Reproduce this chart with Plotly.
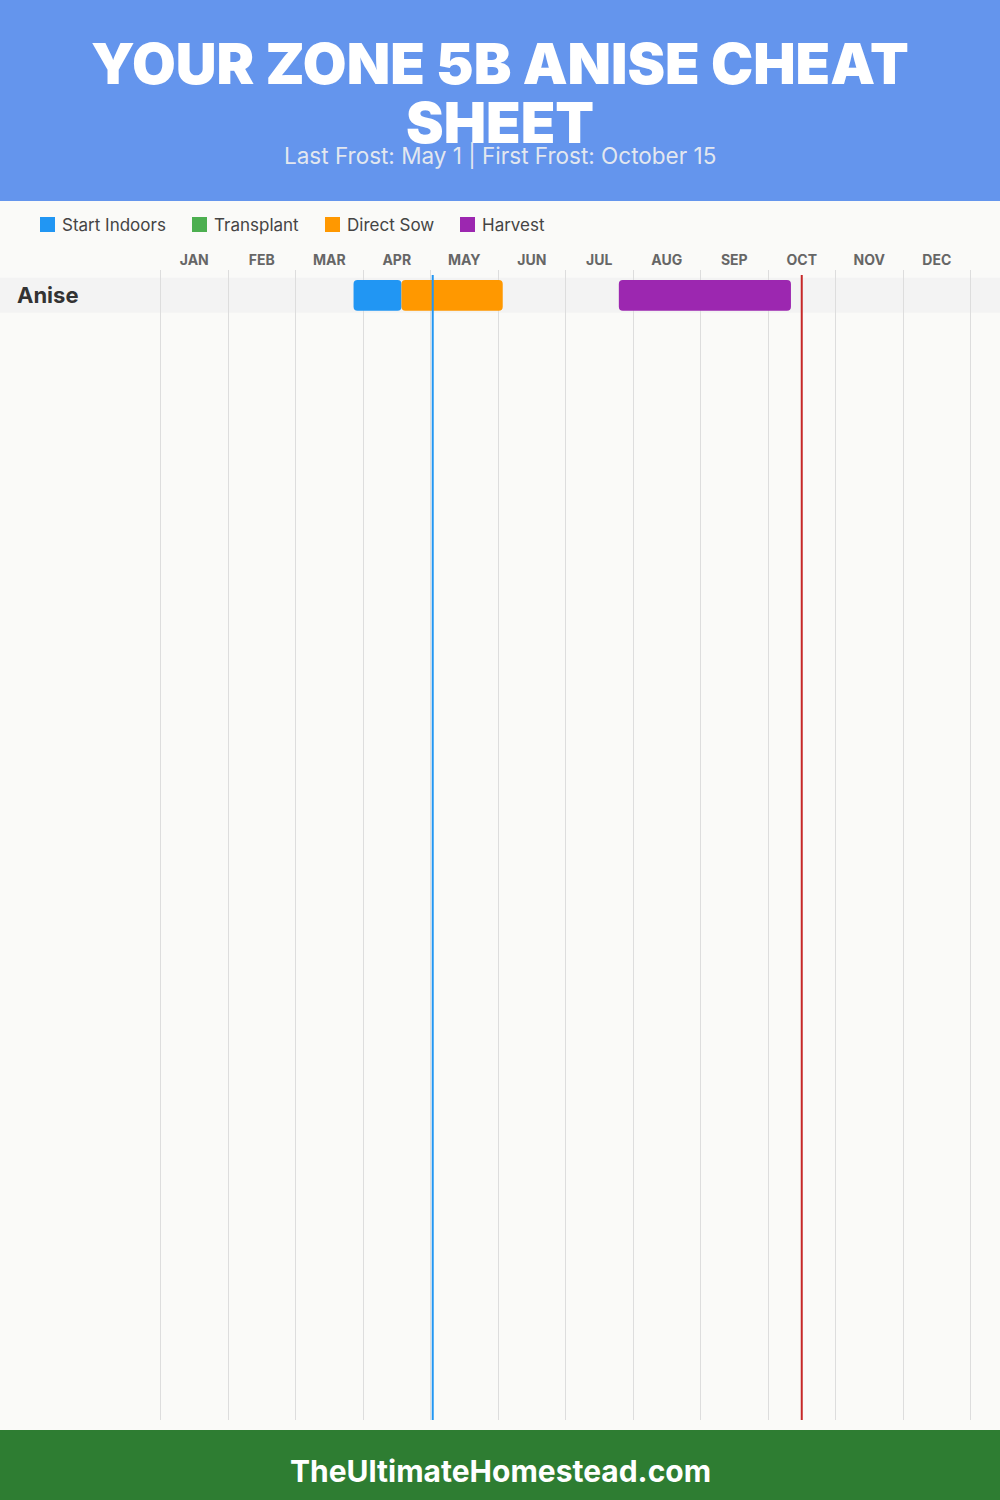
import plotly.graph_objects as go

# ---------------- data ----------------
crops = ["Anise"]
months = ["JAN", "FEB", "MAR", "APR", "MAY", "JUN", "JUL", "AUG", "SEP", "OCT", "NOV", "DEC"]
phases = ["Start Indoors", "Transplant", "Direct Sow", "Harvest"]
phase_colors = ["#2196F3", "#4CAF50", "#FF9800", "#9C27B0"]

# values in month units (0 = Jan 1, 12 = Dec 31)
start_indoors_start = [2.86]
start_indoors_end = [3.57]
transplant_start = []
transplant_end = []
direct_sow_start = [3.57]
direct_sow_end = [5.07]
harvest_start = [6.79]
harvest_end = [9.34]

last_frost = 4.033   # May 1
first_frost = 9.5    # October 15

title_lines = ["YOUR ZONE 5B ANISE CHEAT", "SHEET"]
subtitle = "Last Frost: May 1 | First Frost: October 15"
footer = "TheUltimateHomestead.com"

# ---------------- layout helpers ----------------
W, H = 1000, 1500
FONT = "Inter, 'Noto Sans', 'Open Sans', sans-serif"


def py(pix):
    """pixel row (from top) -> paper y"""
    return 1 - pix / H


def px(pix):
    return pix / W


x0_pix, month_w = 160.5, 67.5
x_range = [-x0_pix / month_w, (W - x0_pix) / month_w]

dom_top, dom_bot = 270, 1420
row_center, row_h = 295.3, 35.0
dom_h = dom_bot - dom_top
y_range = [(dom_h - (row_center - dom_top)) / row_h, -(row_center - dom_top) / row_h]

fig = go.Figure()

series = [
    (start_indoors_start, start_indoors_end),
    (transplant_start, transplant_end),
    (direct_sow_start, direct_sow_end),
    (harvest_start, harvest_end),
]
for name, color, (s, e) in zip(phases, phase_colors, series):
    if not s:
        continue
    fig.add_trace(go.Bar(
        y=crops[:len(s)],
        x=[b - a for a, b in zip(s, e)],
        base=s,
        orientation="h",
        marker=dict(color=color, line=dict(width=0)),
        width=30.7 / row_h,
        name=name,
        showlegend=False,
        hoverinfo="skip",
    ))

shapes = []
annotations = []

# header / footer bands
shapes.append(dict(type="rect", xref="paper", yref="paper", x0=0, x1=1, y0=py(201), y1=1,
                   fillcolor="#6495ED", line=dict(width=0), layer="below"))
shapes.append(dict(type="rect", xref="paper", yref="paper", x0=0, x1=1, y0=0, y1=py(1430),
                   fillcolor="#2E7D32", line=dict(width=0), layer="below"))

# row band
for i, c in enumerate(crops):
    shapes.append(dict(type="rect", xref="paper", yref="y", x0=0, x1=1, y0=i - 0.5, y1=i + 0.5,
                       fillcolor="#F3F3F3", line=dict(width=0), layer="below"))
    annotations.append(dict(text=f"<b>{c}</b>", xref="paper", yref="y", x=px(15), y=i,
                            xanchor="left", yanchor="middle", showarrow=False,
                            font=dict(family=FONT, size=22, color="#333333")))

# frost lines
for val, col in [(last_frost, "#2196F3"), (first_frost, "#C62828")]:
    shapes.append(dict(type="line", xref="x", yref="paper", x0=val, x1=val,
                       y0=py(dom_bot), y1=py(275), line=dict(color=col, width=2), layer="above"))

# legend (manual)
legend_x = [40, 192, 325, 460]
for lx, name, color in zip(legend_x, phases, phase_colors):
    shapes.append(dict(type="rect", xref="paper", yref="paper", x0=px(lx), x1=px(lx + 15),
                       y0=py(232), y1=py(217), fillcolor=color, line=dict(width=0)))
    annotations.append(dict(text=name, xref="paper", yref="paper", x=px(lx + 20), y=py(225.5),
                            xanchor="left", yanchor="middle", showarrow=False,
                            font=dict(family=FONT, size=17, color="#444444")))

# title
annotations.append(dict(text=title_lines[0], xref="paper", yref="paper", x=0.5, y=py(64),
                        xanchor="center", yanchor="middle", showarrow=False,
                        font=dict(family=FONT, size=56.5, color="white", weight=900)))
annotations.append(dict(text=title_lines[1], xref="paper", yref="paper", x=0.5, y=py(122),
                        xanchor="center", yanchor="middle", showarrow=False,
                        font=dict(family=FONT, size=56.5, color="white", weight=900)))
annotations.append(dict(text=subtitle, xref="paper", yref="paper", x=0.5, y=py(155.5),
                        xanchor="center", yanchor="middle", showarrow=False,
                        font=dict(family=FONT, size=22.5, color="rgba(240,240,240,0.92)")))
annotations.append(dict(text=f"<b>{footer}</b>", xref="paper", yref="paper", x=0.5, y=py(1471),
                        xanchor="center", yanchor="middle", showarrow=False,
                        font=dict(family=FONT, size=30, color="white")))

fig.update_layout(
    width=W, height=H,
    margin=dict(l=0, r=0, t=0, b=0),
    paper_bgcolor="#FAFAF8",
    plot_bgcolor="rgba(0,0,0,0)",
    barmode="overlay",
    barcornerradius=4,
    showlegend=False,
    shapes=shapes,
    annotations=annotations,
    xaxis=dict(
        domain=[0, 1], range=x_range, side="top",
        tickmode="array", tickvals=[i + 0.5 for i in range(12)], ticktext=months,
        tickfont=dict(family=FONT, size=14, color="#666666", weight=700),
        ticks="", showgrid=False, zeroline=False, showline=False,
        ticklabelstandoff=1,
        minor=dict(tickmode="array", tickvals=list(range(13)), showgrid=True,
                   gridcolor="#DDDDDD", gridwidth=1, ticks=""),
        fixedrange=True,
    ),
    yaxis=dict(
        domain=[py(dom_bot), py(dom_top)], range=y_range,
        showticklabels=False, showgrid=False, zeroline=False, ticks="", fixedrange=True,
    ),
)

fig.write_html(
    "out.html",
    config={"displayModeBar": False},
    post_script="document.body.style.margin='0';document.body.style.padding='0';",
)
